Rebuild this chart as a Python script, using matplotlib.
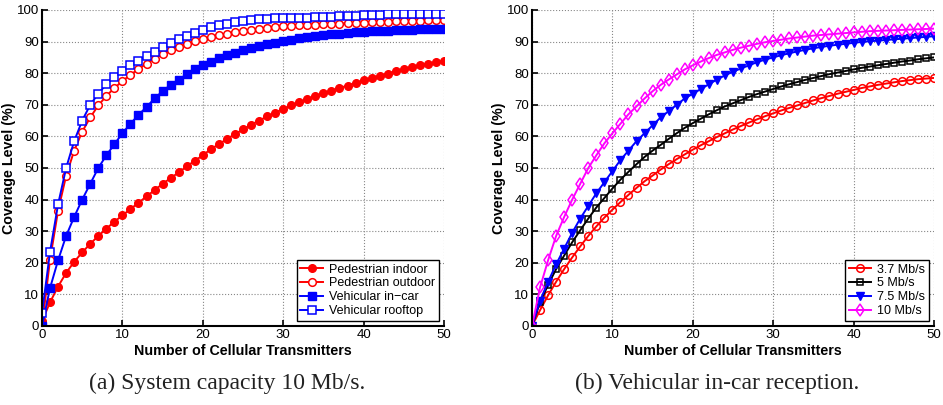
import numpy as np
import matplotlib
matplotlib.use("Agg")
import matplotlib.pyplot as plt

x = list(range(51))

ped_indoor = [1.5, 7.5, 12.5, 16.8, 20.3, 23.3, 26, 28.5, 30.8, 33, 35, 37, 39, 41, 43, 45, 46.8, 48.6, 50.5, 52.3,
              54, 56, 57.5, 59.2, 60.7, 62.2, 63.7, 65, 66.3, 67.5, 68.7, 69.8, 70.8, 71.8, 72.8, 73.7, 74.5, 75.3,
              76.1, 76.9, 77.7, 78.5, 79.2, 79.9, 80.6, 81.3, 82, 82.5, 83, 83.4, 83.8]
ped_outdoor = [0, 21, 36.5, 47.5, 55.5, 61.5, 66, 69.8, 72.8, 75.3, 77.5, 79.5, 81.3, 83, 84.6, 86, 87.3, 88.3, 89.3,
               90.1, 90.8, 91.4, 92, 92.5, 92.9, 93.3, 93.7, 94, 94.3, 94.6, 94.8, 95, 95.2, 95.3, 95.4, 95.5, 95.6,
               95.7, 95.8, 95.9, 96, 96.1, 96.2, 96.3, 96.4, 96.5, 96.5, 96.6, 96.7, 96.7, 96.8]
veh_incar = [0, 12, 20.8, 28.5, 34.5, 40, 45, 50, 54, 57.5, 61, 64, 66.8, 69.3, 72, 74.3, 76.3, 78, 79.6, 81.2, 82.5,
             83.7, 84.7, 85.7, 86.5, 87.3, 88, 88.6, 89.2, 89.7, 90.2, 90.6, 91, 91.4, 91.7, 92, 92.3, 92.5, 92.7,
             92.9, 93.1, 93.3, 93.4, 93.5, 93.6, 93.7, 93.8, 93.9, 94, 94, 94.1]
veh_roof = [4, 23.5, 38.5, 50, 58.5, 65, 70, 73.5, 76.5, 78.8, 80.8, 82.5, 84, 85.5, 86.8, 88.2, 89.4, 90.7, 91.8,
            92.8, 93.7, 94.5, 95.2, 95.7, 96.2, 96.6, 96.9, 97.1, 97.3, 97.4, 97.5, 97.5, 97.6, 97.6, 97.7, 97.8,
            97.9, 98, 98.1, 98.2, 98.3, 98.4, 98.5, 98.6, 98.7, 98.7, 98.8, 98.7, 98.7, 98.6, 98.6]

r37 = [0, 5, 9.7, 14, 18, 21.7, 25.2, 28.5, 31.5, 34.3, 36.8, 39.2, 41.5, 43.7, 45.8, 47.6, 49.5, 51.2, 52.8, 54.3,
       55.8, 57.2, 58.5, 59.8, 61, 62.2, 63.3, 64.4, 65.4, 66.4, 67.3, 68.2, 69, 69.8, 70.6, 71.4, 72.1, 72.8, 73.5,
       74.1, 74.7, 75.3, 75.8, 76.3, 76.7, 77.1, 77.5, 77.8, 78.1, 78.3, 78.5]
r5 = [0, 7.5, 13, 18, 22.3, 26.5, 30.3, 34, 37.5, 40.5, 43.5, 46.3, 48.8, 51.2, 53.5, 55.5, 57.3, 59.2, 61, 62.7, 64.2,
      65.6, 67, 68.3, 69.5, 70.5, 71.5, 72.5, 73.4, 74.2, 75, 75.8, 76.5, 77.2, 77.9, 78.5, 79.1, 79.7, 80.2, 80.7,
      81.2, 81.7, 82.1, 82.5, 82.9, 83.3, 83.7, 84, 84.4, 84.7, 85]
r75 = [0, 8, 14, 19.5, 24.5, 29.5, 34, 38, 42, 45.5, 49, 52.5, 55.5, 58.5, 61, 63.5, 66, 68, 70, 72, 73.5, 75, 76.5,
       78, 79.3, 80.5, 81.5, 82.5, 83.5, 84.3, 85, 85.7, 86.3, 86.9, 87.4, 87.9, 88.3, 88.7, 89, 89.3, 89.6, 89.9,
       90.1, 90.3, 90.5, 90.7, 90.9, 91.1, 91.3, 91.5, 91.7]
r10 = [0, 12.2, 20.8, 28.5, 34.5, 40, 45, 50, 54, 57.8, 61, 64, 67, 69.5, 72, 74.3, 76.3, 78, 79.6, 81.2, 82.5, 83.7,
       84.8, 85.8, 86.6, 87.4, 88.1, 88.7, 89.3, 89.8, 90.2, 90.6, 91, 91.3, 91.6, 91.9, 92.1, 92.3, 92.5, 92.7,
       92.9, 93.1, 93.3, 93.4, 93.5, 93.6, 93.7, 93.8, 93.9, 94, 94.1]

plt.rcParams['font.family'] = ['Liberation Sans', 'DejaVu Sans']

fig = plt.figure(figsize=(9.43, 4.05), dpi=100)
W, H = 943, 405
axL = fig.add_axes([42 / W, (H - 326) / H, 402 / W, 316 / H])
axR = fig.add_axes([532 / W, (H - 326) / H, 402 / W, 316 / H])

lw = 1.4
ms = 5.5
axL.plot(x, ped_indoor, '-o', color='red', lw=lw, ms=ms, mfc='red', mec='red', label='Pedestrian indoor')
axL.plot(x, ped_outdoor, '-o', color='red', lw=lw, ms=ms, mfc='white', mec='red', mew=1.1, label='Pedestrian outdoor')
axL.plot(x, veh_incar, '-s', color='blue', lw=lw, ms=ms, mfc='blue', mec='blue', label='Vehicular in\u2212car')
axL.plot(x, veh_roof, '-s', color='blue', lw=lw, ms=ms, mfc='white', mec='blue', mew=1.1, label='Vehicular rooftop')

axR.plot(x, r37, '-o', color='red', lw=lw, ms=ms, mfc='none', mec='red', mew=1.1, label='3.7 Mb/s')
axR.plot(x, r5, '-s', color='black', lw=lw, ms=4.5, mfc='none', mec='black', mew=1.1, label='5 Mb/s')
axR.plot(x, r75, '-v', color='blue', lw=lw, ms=6, mfc='blue', mec='blue', label='7.5 Mb/s')
axR.plot(x, r10, '-d', color='magenta', lw=lw, ms=6, mfc='none', mec='magenta', mew=1.1, label='10 Mb/s')

for ax in (axL, axR):
    ax.set_xlim(0, 50)
    ax.set_ylim(0, 100)
    ax.set_xticks(range(0, 51, 10))
    ax.set_yticks(range(0, 101, 10))
    ax.grid(True, linestyle=':', color='#888888', linewidth=0.8)
    ax.spines['top'].set_visible(False)
    ax.spines['right'].set_visible(False)
    ax.spines['left'].set_linewidth(1.5)
    ax.spines['bottom'].set_linewidth(1.5)
    ax.tick_params(direction='in', labelsize=9.5, length=4, width=1.2, pad=2)
    ax.set_xlabel('Number of Cellular Transmitters', fontsize=10.3, fontweight='bold', labelpad=2)
    ax.set_ylabel('Coverage Level (%)', fontsize=10.3, fontweight='bold', labelpad=1)
    leg = ax.legend(loc='lower right', fontsize=9, fancybox=False, edgecolor='black',
                    framealpha=1, borderpad=0.3, labelspacing=0.15, handlelength=1.8,
                    handletextpad=0.5, borderaxespad=0.4)
    leg.get_frame().set_linewidth(1.0)

fig.text(227 / W, 1 - 383 / H, '(a) System capacity 10 Mb/s.', ha='center', va='center',
         fontsize=17, family='Liberation Serif', color='#222222')
fig.text(717 / W, 1 - 383 / H, '(b) Vehicular in-car reception.', ha='center', va='center',
         fontsize=17, family='Liberation Serif', color='#222222')

fig.savefig('out.png', dpi=100)
